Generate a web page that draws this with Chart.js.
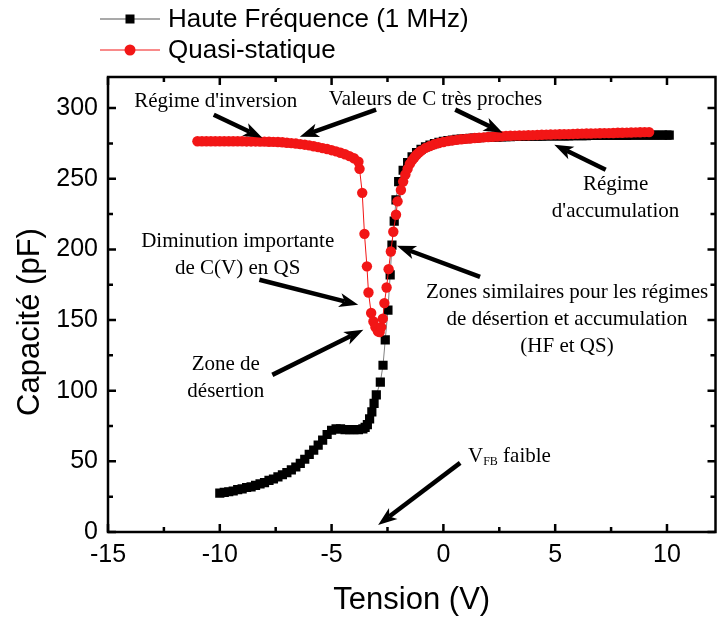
<!DOCTYPE html>
<html>
<head>
<meta charset="utf-8">
<script src="https://cdn.jsdelivr.net/npm/chart.js@4.4.0/dist/chart.umd.min.js"></script>
<style>
  html, body { margin: 0; padding: 0; background: #fff; overflow: hidden; }
  #wrap { position: relative; width: 722px; height: 619px; }
</style>
</head>
<body>
<div id="wrap"><canvas id="cvChart"></canvas></div>
<script>
// Haute fréquence (1 MHz) : tension (V) / capacité (pF)
const hfTension = [
  -10, -9.8, -9.6, -9.4, -9.2, -9, -8.8, -8.6, -8.4, -8.2, -8, -7.8, -7.6, -7.4, -7.2, -7,
  -6.8, -6.6, -6.4, -6.2, -6, -5.8, -5.6, -5.4, -5.2, -5, -4.8, -4.6, -4.4, -4.2, -4, -3.8, -3.6,
  -3.5, -3.4, -3.3, -3.2, -3.1, -3.0, -2.82, -2.7, -2.6, -2.48, -2.38, -2.3, -2.2, -2.12,
  -2, -1.8, -1.6, -1.4, -1.2, -1, -0.8, -0.6, -0.4, -0.2,
  0, 0.2, 0.4, 0.6, 0.8, 1, 1.2, 1.4, 1.6, 1.8,
  2, 2.2, 2.4, 2.6, 2.8, 3, 3.2, 3.4, 3.6, 3.8,
  4, 4.2, 4.4, 4.6, 4.8, 5, 5.2, 5.4, 5.6, 5.8,
  6, 6.2, 6.4, 6.6, 6.8, 7, 7.2, 7.4, 7.6, 7.8,
  8, 8.2, 8.4, 8.6, 8.8, 9, 9.2, 9.4, 9.6, 9.8,
  10, 10.1
];
const hfCapa = [
  27.5, 28, 28.5, 29, 30, 30.5, 31.5, 32, 33, 34, 35, 36.5, 37.5, 39, 40.5, 42,
  44, 46, 48.5, 51.5, 55, 58, 61.5, 65, 69, 72, 73, 73, 72.5, 72.5, 72.5, 72.5, 73,
  74, 76, 80, 85, 91, 97, 106, 118, 136, 157, 182, 203, 220, 235,
  248, 256, 261.5, 265.5, 268.5, 270.8, 272.6, 273.8, 274.9, 275.8,
  276.5, 277, 277.4, 277.8, 278.1, 278.4, 278.6, 278.8, 279, 279.2,
  279.3, 279.4, 279.5, 279.6, 279.7, 279.8, 279.9, 280, 280, 280.1,
  280.1, 280.2, 280.2, 280.3, 280.3, 280.3, 280.4, 280.4, 280.4, 280.5,
  280.5, 280.5, 280.5, 280.6, 280.6, 280.6, 280.6, 280.7, 280.7, 280.7,
  280.7, 280.7, 280.8, 280.8, 280.8, 280.8, 280.8, 280.8, 280.9, 280.9,
  280.9, 280.9
];

// Quasi-statique : tension (V) / capacité (pF)
const qsTension = [
  -11, -10.8, -10.6, -10.4, -10.2, -10, -9.8, -9.6, -9.4, -9.2,
  -9, -8.8, -8.6, -8.4, -8.2, -8, -7.8, -7.6, -7.4, -7.2,
  -7, -6.8, -6.6, -6.4, -6.2, -6, -5.8, -5.6, -5.4, -5.2,
  -5, -4.8, -4.6, -4.4, -4.2, -4, -3.8,
  -3.75, -3.63, -3.53, -3.42, -3.35, -3.23, -3.13, -3.04, -2.93, -2.85,
  -2.78, -2.71, -2.64, -2.54, -2.45, -2.35, -2.24, -2.12, -2.05,
  -1.9, -1.8, -1.7, -1.6, -1.5, -1.4, -1.3, -1.2, -1.1, -1,
  -0.8, -0.6, -0.4, -0.2, 0, 0.2, 0.4, 0.6, 0.8, 1,
  1.2, 1.4, 1.6, 1.8, 2, 2.2, 2.4, 2.6, 2.8, 3,
  3.2, 3.4, 3.6, 3.8, 4, 4.2, 4.4, 4.6, 4.8, 5,
  5.2, 5.4, 5.6, 5.8, 6, 6.2, 6.4, 6.6, 6.8, 7,
  7.2, 7.4, 7.6, 7.8, 8, 8.2, 8.4, 8.6, 8.8, 9,
  9.2
];
const qsCapa = [
  276.5, 276.5, 276.5, 276.5, 276.5, 276.5, 276.5, 276.5, 276.5, 276.5,
  276.5, 276.4, 276.4, 276.4, 276.3, 276.3, 276.2, 276.1, 276, 275.8,
  275.5, 275.2, 274.9, 274.5, 274.1, 273.6, 273, 272.4, 271.7, 271,
  270.2, 269.4, 268.4, 267.3, 266, 264.5, 262,
  257, 240, 211, 188, 169.5, 155, 149, 145, 142, 141.5,
  145, 151, 162, 173, 186, 198.5, 212.5, 224.5, 234,
  242, 248, 253, 257, 260.5, 263, 265, 267, 268.5, 269.8,
  271.8, 273.2, 274.4, 275.3, 276, 276.6, 277.1, 277.5, 277.9, 278.2,
  278.5, 278.8, 279, 279.3, 279.5, 279.7, 279.9, 280.1, 280.3, 280.4,
  280.5, 280.6, 280.7, 280.8, 280.9, 281, 281.1, 281.2, 281.3, 281.4,
  281.5, 281.6, 281.6, 281.7, 281.8, 281.9, 282, 282, 282.1, 282.2,
  282.3, 282.3, 282.4, 282.5, 282.5, 282.6, 282.7, 282.8, 282.9, 283,
  283
];

// Tick labels
const xTicks = [-15, -10, -5, 0, 5, 10];
const yTicks = [0, 50, 100, 150, 200, 250, 300];

const seriesNames = ['Haute Fréquence (1 MHz)', 'Quasi-statique'];

// Annotations (text anchored in data coordinates)
const notes = [
  { lines: ["Régime d'inversion"], at: [-10.18, 304.5] },
  { lines: ['Valeurs de C très proches'], at: [-0.35, 306] },
  { lines: ['Régime', "d'accumulation"], at: [7.7, 245.8] },
  { lines: ['Diminution importante', 'de C(V) en QS'], at: [-9.2, 205.4] },
  { lines: ['Zone de', 'désertion'], at: [-9.73, 118.3] },
  { lines: ['Zones similaires pour les régimes', 'de désertion et accumulation', '(HF et QS)'], at: [5.53, 169.3] }
];
const arrows = [
  [[-10.27, 295.3], [-8.1, 279]],
  [[-3.01, 298.9], [-6.42, 279.7]],
  [[0.53, 298.9], [2.65, 282.6]],
  [[7.26, 256.4], [4.96, 274.1]],
  [[-8.23, 178.5], [-3.81, 160.8]],
  [[-7.65, 111.2], [-3.58, 143.1]],
  [[1.64, 180.6], [-2.08, 202.5]],
  [[0.75, 48.9], [-2.92, 5.0]]
];
const vfbNote = { at: [1.1, 53.1] };

const hfPoints = hfTension.map((v, i) => ({ x: v, y: hfCapa[i] }));
const qsPoints = qsTension.map((v, i) => ({ x: v, y: qsCapa[i] }));

const RED = '#f21616';
const SANS = '"Liberation Sans", Arial, sans-serif';
const SERIF = '"Liberation Serif", "Times New Roman", serif';

function drawArrow(ctx, x1, y1, x2, y2) {
  const ang = Math.atan2(y2 - y1, x2 - x1);
  const c = Math.cos(ang), s = Math.sin(ang);
  const headLen = 19, headW = 7;
  const bx = x2 - headLen * c, by = y2 - headLen * s;
  ctx.save();
  ctx.strokeStyle = '#000';
  ctx.fillStyle = '#000';
  ctx.lineWidth = 4.5;
  ctx.lineCap = 'butt';
  ctx.beginPath();
  ctx.moveTo(x1, y1);
  ctx.lineTo(bx + 5 * c, by + 5 * s);
  ctx.stroke();
  ctx.beginPath();
  ctx.moveTo(x2, y2);
  ctx.lineTo(bx - headW * s, by + headW * c);
  ctx.lineTo(bx + 5 * c, by + 5 * s);
  ctx.lineTo(bx + headW * s, by - headW * c);
  ctx.closePath();
  ctx.fill();
  ctx.restore();
}

// frame with inward ticks, legend, y title and annotations
const decorPlugin = {
  id: 'decor',
  afterDraw(chart) {
    const ctx = chart.ctx;
    const { left, right, top, bottom } = chart.chartArea;
    const xs = chart.scales.x, ys = chart.scales.y;

    ctx.save();
    ctx.strokeStyle = '#000';
    ctx.lineWidth = 2.5;
    ctx.strokeRect(left, top, right - left, bottom - top);

    for (let v = -15; v <= 12.5; v += 2.5) {
      const px = xs.getPixelForValue(v);
      if (px < left - 1 || px > right + 1) continue;
      const len = (v % 5 === 0) ? 8 : 5;
      ctx.beginPath();
      ctx.moveTo(px, bottom); ctx.lineTo(px, bottom - len);
      ctx.moveTo(px, top); ctx.lineTo(px, top + len);
      ctx.stroke();
    }
    for (let v = 0; v <= 325; v += 25) {
      const py = ys.getPixelForValue(v);
      if (py < top - 1 || py > bottom + 1) continue;
      const len = (v % 50 === 0) ? 8 : 5;
      ctx.beginPath();
      ctx.moveTo(left, py); ctx.lineTo(left + len, py);
      ctx.moveTo(right, py); ctx.lineTo(right - len, py);
      ctx.stroke();
    }

    // y title, placed as in the figure (a bit below the axis centre)
    ctx.save();
    ctx.translate(30, 322);
    ctx.rotate(-Math.PI / 2);
    ctx.font = '31px ' + SANS;
    ctx.fillStyle = '#000';
    ctx.textAlign = 'center';
    ctx.textBaseline = 'middle';
    ctx.fillText('Capacité (pF)', 0, 0);
    ctx.restore();

    // legend
    ctx.textBaseline = 'middle';
    ctx.textAlign = 'left';
    ctx.font = '26px ' + SANS;
    ctx.fillStyle = '#000';
    ctx.strokeStyle = '#8c8c8c';
    ctx.lineWidth = 1.5;
    ctx.beginPath(); ctx.moveTo(100, 19); ctx.lineTo(160, 19); ctx.stroke();
    ctx.fillRect(125.5, 14.5, 9, 9);
    ctx.fillText(seriesNames[0], 168, 20);
    ctx.strokeStyle = RED;
    ctx.lineWidth = 1;
    ctx.beginPath(); ctx.moveTo(100, 50); ctx.lineTo(160, 50); ctx.stroke();
    ctx.fillStyle = RED;
    ctx.beginPath(); ctx.arc(130, 50, 5.5, 0, Math.PI * 2); ctx.fill();
    ctx.fillStyle = '#000';
    ctx.fillText(seriesNames[1], 168, 51);

    // annotations
    ctx.font = '21px ' + SERIF;
    ctx.textAlign = 'center';
    notes.forEach(n => {
      const px = xs.getPixelForValue(n.at[0]);
      const py = ys.getPixelForValue(n.at[1]);
      n.lines.forEach((t, i) => ctx.fillText(t, px, py + i * 27));
    });
    arrows.forEach(a => {
      drawArrow(ctx,
        xs.getPixelForValue(a[0][0]), ys.getPixelForValue(a[0][1]),
        xs.getPixelForValue(a[1][0]), ys.getPixelForValue(a[1][1]));
    });

    // V_FB faible
    let vx = xs.getPixelForValue(vfbNote.at[0]);
    const vy = ys.getPixelForValue(vfbNote.at[1]);
    ctx.textAlign = 'left';
    ctx.font = '21px ' + SERIF;
    ctx.fillText('V', vx, vy);
    vx += ctx.measureText('V').width;
    ctx.font = '12px ' + SERIF;
    ctx.fillText('FB', vx, vy + 5);
    vx += ctx.measureText('FB').width;
    ctx.font = '21px ' + SERIF;
    ctx.fillText(' faible', vx, vy);
    ctx.restore();
  }
};

new Chart(document.getElementById('cvChart'), {
  type: 'scatter',
  data: {
    datasets: [
      {
        label: seriesNames[1],
        data: qsPoints,
        order: 0,
        showLine: true,
        borderColor: RED,
        borderWidth: 1,
        pointStyle: 'circle',
        pointRadius: 5.2,
        pointBackgroundColor: RED,
        pointBorderWidth: 0
      },
      {
        label: seriesNames[0],
        data: hfPoints,
        order: 1,
        showLine: true,
        borderColor: '#808080',
        borderWidth: 1,
        pointStyle: 'rect',
        pointRadius: 6.5,
        pointBackgroundColor: '#000',
        pointBorderWidth: 0
      }
    ]
  },
  options: {
    responsive: true,
    maintainAspectRatio: false,
    animation: false,
    events: [],
    layout: { padding: { top: 77, left: 0, right: 0, bottom: 0 } },
    plugins: {
      legend: { display: false },
      tooltip: { enabled: false }
    },
    scales: {
      x: {
        type: 'linear',
        min: -15,
        max: 12.17,
        grid: { display: false, drawTicks: false },
        border: { display: false },
        afterBuildTicks: s => { s.ticks = xTicks.map(v => ({ value: v })); },
        afterFit: s => { s.height = 87; },
        ticks: {
          padding: 8,
          color: '#000',
          font: { family: SANS, size: 25 },
          maxRotation: 0
        },
        title: {
          display: true,
          text: 'Tension (V)',
          color: '#000',
          font: { family: SANS, size: 31 },
          padding: { top: 0, bottom: 0 }
        }
      },
      y: {
        type: 'linear',
        min: 0,
        max: 322,
        grid: { display: false, drawTicks: false },
        border: { display: false },
        afterBuildTicks: s => { s.ticks = yTicks.map(v => ({ value: v })); },
        afterFit: s => { s.width = 108; },
        ticks: {
          padding: 10,
          color: '#000',
          font: { family: SANS, size: 25 }
        },
        title: { display: false }
      }
    }
  },
  plugins: [decorPlugin]
});
</script>
</body>
</html>
